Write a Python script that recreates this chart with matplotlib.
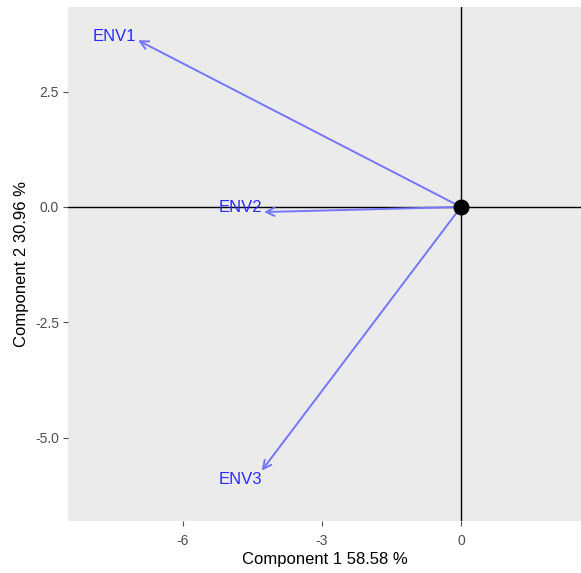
import matplotlib.pyplot as plt

plt.rcParams['font.family'] = ['Liberation Sans', 'DejaVu Sans']
plt.rcParams['axes.unicode_minus'] = False

# loadings of the environment variables on the first two components
variables = ['ENV1', 'ENV2', 'ENV3']
comp1 = [-6.97, -4.25, -4.30]
comp2 = [3.61, -0.11, -5.71]
label_x = [-7.47, -4.75, -4.77]
label_y = [3.70, -0.02, -5.91]
var_comp1 = 58.58
var_comp2 = 30.96

fig = plt.figure(figsize=(5.81, 5.73), dpi=100)
ax = fig.add_axes([68 / 581, 52 / 573, 513 / 581, 514 / 573])
ax.set_facecolor('#EBEBEB')

ax.axhline(0, color='black', lw=1.0, zorder=1)
ax.axvline(0, color='black', lw=1.0, zorder=1)

for x, y in zip(comp1, comp2):
    ax.annotate('', xy=(x, y), xytext=(0, 0),
                arrowprops=dict(arrowstyle='->,head_length=0.6,head_width=0.3',
                                color='#7575FF', lw=1.4, shrinkA=0, shrinkB=0),
                zorder=2)

for name, x, y in zip(variables, label_x, label_y):
    ax.text(x, y, name, color='#2B2BFF', fontsize=12, ha='center', va='center', zorder=3)

ax.scatter([0], [0], s=110, color='black', zorder=4)

ax.set_xlim(-8.48, 2.59)
ax.set_ylim(-6.80, 4.33)
ax.set_xticks([-6, -3, 0])
ax.set_yticks([2.5, 0.0, -2.5, -5.0])
ax.set_yticklabels(['2.5', '0.0', '-2.5', '-5.0'])
ax.tick_params(colors='#4D4D4D', labelsize=10, length=3.5, width=0.8)
ax.tick_params(axis='x', pad=6)
ax.tick_params(axis='y', pad=3)
for s in ax.spines.values():
    s.set_visible(False)

ax.set_xlabel(f'Component 1 {var_comp1} %', fontsize=12, labelpad=3)
ax.set_ylabel(f'Component 2 {var_comp2} %', fontsize=12, labelpad=4)

fig.savefig('out.png', dpi=100)
